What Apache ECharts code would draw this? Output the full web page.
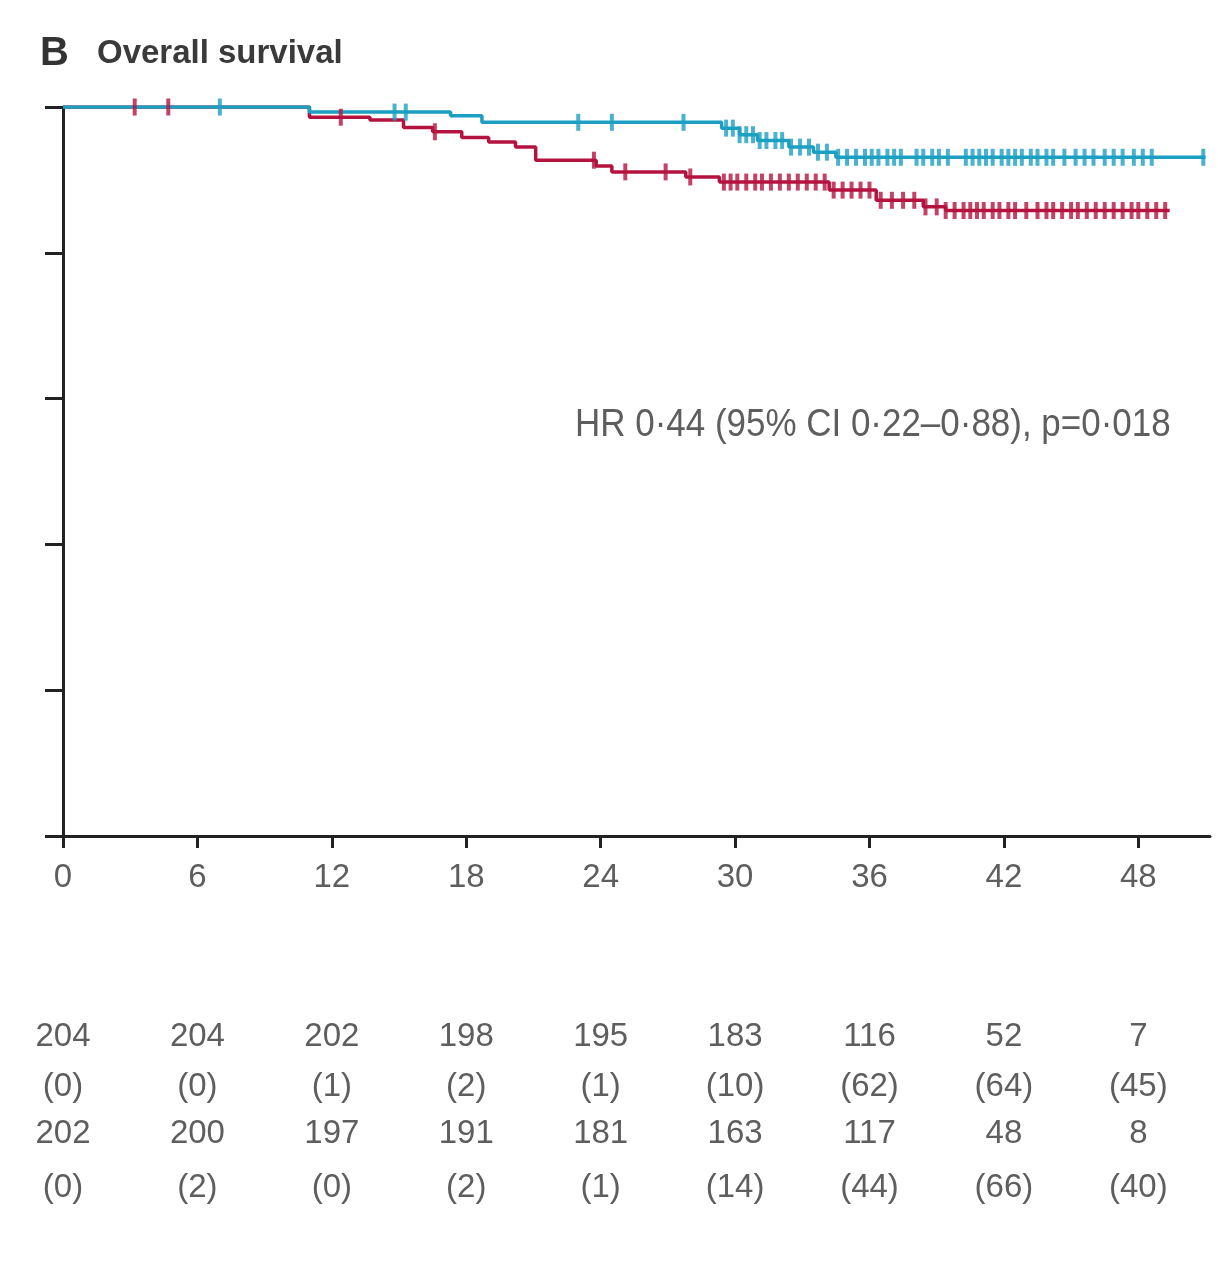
<!DOCTYPE html>
<html>
<head>
<meta charset="utf-8">
<script src="https://cdn.jsdelivr.net/npm/echarts@6/dist/echarts.min.js"></script>
<style>
  html, body { margin: 0; padding: 0; background: #fff; }
  #main { width: 1218px; height: 1261px; }
</style>
</head>
<body>
<div id="main"></div>
<script>
var FONT = "'Liberation Sans', 'Open Sans', sans-serif";

// 生存曲线（月份，%）
var blueTime = [0, 11.0, 17.3, 18.7, 29.4, 30.2, 31.0, 32.4, 33.5, 34.5, 51.0];
var blueSurv = [100, 99.3, 98.8, 97.9, 97.1, 96.2, 95.4, 94.5, 93.8, 93.1, 93.1];
var redTime = [0, 11.0, 13.7, 15.2, 16.5, 17.8, 19.0, 20.2, 21.1, 23.8, 24.5, 27.8, 29.3, 34.2, 36.3, 38.4, 39.4, 49.4];
var redSurv = [100, 98.6, 98.2, 97.2, 96.6, 95.8, 95.2, 94.5, 92.7, 91.9, 91.1, 90.4, 89.7, 88.6, 87.2, 86.3, 85.8, 85.8];

// 删失标记
var blueCensor = [7.0, 14.8, 15.3, 23.0, 24.5, 27.7,
  29.6, 29.9, 30.2, 30.5, 30.8, 31.1, 31.4, 31.8, 32.1, 32.5, 32.9, 33.3, 33.7, 34.1, 34.6, 35.0, 35.4,
  35.8, 36.1, 36.4, 36.8, 37.1, 37.4,
  38.1, 38.4, 38.8, 39.1, 39.5,
  40.3, 40.6, 40.9, 41.2, 41.5, 41.9, 42.2, 42.5, 42.8, 43.2, 43.5, 43.9, 44.2,
  44.7, 45.2, 45.6, 46.0, 46.5, 46.9, 47.3, 47.8, 48.2, 48.6,
  50.9];
var redCensor = [3.2, 4.7, 12.4, 16.6, 23.7, 25.1, 26.9, 28.0,
  29.5, 29.8, 30.1, 30.5, 30.9, 31.2, 31.6, 32.0, 32.4, 32.8, 33.2, 33.6, 34.0, 34.4, 34.8, 35.2, 35.6,
  36.0, 36.5, 37.0, 37.5, 38.0, 38.5, 39.0, 39.4, 39.8,
  40.2, 40.5, 40.8, 41.1, 41.5, 41.8, 42.2, 42.5, 43.0, 43.5, 43.9, 44.2, 44.6, 45.0, 45.3, 45.7,
  46.1, 46.5, 46.9, 47.3, 47.7, 48.0, 48.4, 48.8, 49.2];

// 刻度与风险表
var xTicks = [0, 6, 12, 18, 24, 30, 36, 42, 48];
var yTicks = [0, 20, 40, 60, 80, 100];
var riskRow1 = ['204', '204', '202', '198', '195', '183', '116', '52', '7'];
var riskRow2 = ['(0)', '(0)', '(1)', '(2)', '(1)', '(10)', '(62)', '(64)', '(45)'];
var riskRow3 = ['202', '200', '197', '191', '181', '163', '117', '48', '8'];
var riskRow4 = ['(0)', '(2)', '(0)', '(2)', '(1)', '(14)', '(44)', '(66)', '(40)'];

var blueColor = '#1b9fc2';
var redColor = '#b5133f';

function pairs(t, s) {
    return t.map(function (v, i) { return [v, s[i]]; });
}
function survAt(t, s, x) {
    var v = s[0];
    for (var i = 0; i < t.length; i++) {
        if (t[i] <= x) v = s[i];
    }
    return v;
}
function censorPts(c, t, s) {
    return c.map(function (x) { return [x, survAt(t, s, x)]; });
}

function riskAxis(row, offset) {
    return {
        type: 'value', gridIndex: 0, position: 'bottom', offset: offset,
        min: 0, max: 51.2,
        axisLine: { show: false }, axisTick: { show: false }, splitLine: { show: false },
        axisLabel: {
            customValues: xTicks, margin: 0, verticalAlign: 'middle',
            fontFamily: FONT, fontSize: 33, color: '#5e5e5e',
            formatter: function (v) { return row[xTicks.indexOf(v)]; }
        }
    };
}

var myChart = echarts.init(document.getElementById('main'));

option = {
    backgroundColor: '#fff',
    animation: false,
    grid: { left: 63, right: 8, top: 107, bottom: 425 },
    xAxis: [
        {
            type: 'value', min: 0, max: 51.2,
            axisLine: { lineStyle: { color: '#222', width: 3 } },
            axisTick: { customValues: xTicks, length: 12, lineStyle: { color: '#222', width: 3 } },
            splitLine: { show: false },
            axisLabel: {
                customValues: xTicks, margin: 42, verticalAlign: 'middle',
                fontFamily: FONT, fontSize: 33, color: '#5e5e5e'
            }
        },
        riskAxis(riskRow1, 201),
        riskAxis(riskRow2, 251),
        riskAxis(riskRow3, 298),
        riskAxis(riskRow4, 352)
    ],
    yAxis: {
        type: 'value', min: 0, max: 100, interval: 20,
        axisLine: { show: true, lineStyle: { color: '#222', width: 3 } },
        axisTick: { show: true, length: 18, lineStyle: { color: '#222', width: 3 } },
        axisLabel: { show: false },
        splitLine: { show: false }
    },
    graphic: [
        { type: 'text', left: 40, top: 34, style: { text: 'B', font: 'bold 40px ' + FONT, fill: '#333' } },
        { type: 'text', left: 97, top: 37, scaleX: 0.97, style: { text: 'Overall survival', font: 'bold 34px ' + FONT, fill: '#3a3a3a' } },
        { type: 'text', left: 575, top: 407, scaleX: 0.92, style: { text: 'HR 0·44 (95% CI 0·22–0·88), p=0·018', font: '38px ' + FONT, fill: '#5e5e5e' } }
    ],
    series: [
        {
            name: 'blue', type: 'line', step: 'end', showSymbol: false,
            data: pairs(blueTime, blueSurv),
            lineStyle: { color: blueColor, width: 3.5 }, z: 3
        },
        {
            name: 'red', type: 'line', step: 'end', showSymbol: false,
            data: pairs(redTime, redSurv),
            lineStyle: { color: redColor, width: 3.5 }, z: 2
        },
        {
            name: 'blueCensor', type: 'scatter', symbol: 'rect', symbolSize: [4, 17],
            data: censorPts(blueCensor, blueTime, blueSurv),
            itemStyle: { color: blueColor }, z: 4
        },
        {
            name: 'redCensor', type: 'scatter', symbol: 'rect', symbolSize: [4, 17],
            data: censorPts(redCensor, redTime, redSurv),
            itemStyle: { color: redColor }, z: 4
        }
    ]
};

myChart.setOption(option);
</script>
</body>
</html>
